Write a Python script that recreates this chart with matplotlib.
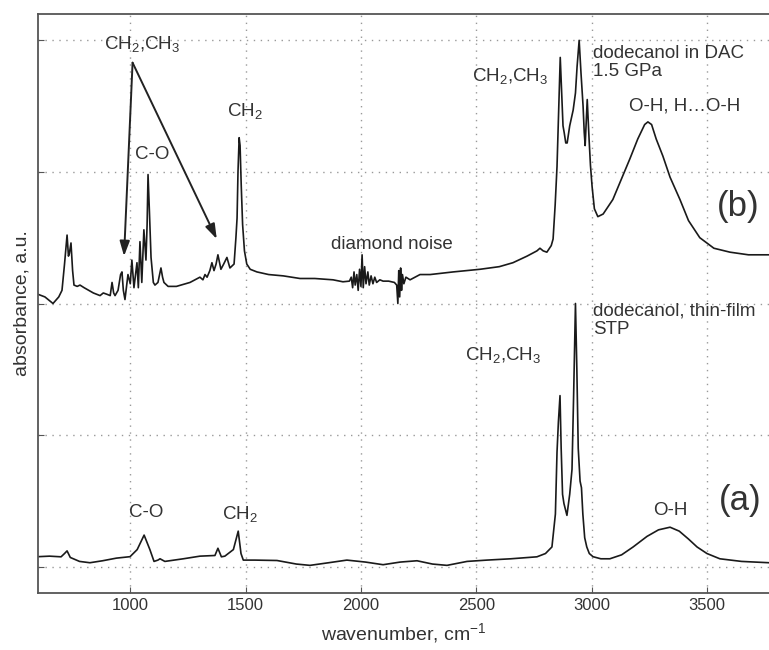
import numpy as np
import matplotlib
matplotlib.use('Agg')
import matplotlib.pyplot as plt

plt.rcParams['font.family'] = ['Liberation Sans', 'DejaVu Sans']
plt.rcParams['mathtext.fontset'] = 'custom'
plt.rcParams['mathtext.rm'] = 'Liberation Sans'
plt.rcParams['mathtext.it'] = 'Liberation Sans'

# trace (a): dodecanol thin film, STP
wn_a = [600, 650, 700, 715, 726, 740, 780, 825, 880, 940, 999, 1030, 1060, 1085, 1103,
        1120, 1129, 1150, 1230, 1302, 1367, 1380, 1395, 1410, 1447, 1468, 1480, 1490,
        1540, 1636, 1720, 1779, 1860, 1939, 2020, 2096, 2170, 2243, 2310, 2373, 2460,
        2546, 2650, 2763, 2800, 2828, 2843, 2850, 2856, 2863, 2868, 2874, 2880, 2893,
        2905, 2915, 2922, 2930, 2936, 2942, 2950, 2956, 2962, 2970, 2979, 2990, 3006,
        3040, 3079, 3130, 3180, 3240, 3290, 3340, 3380, 3420, 3457, 3500, 3556, 3650, 3769]
abs_a = [0.076, 0.08, 0.075, 0.1, 0.12, 0.07, 0.04, 0.03, 0.045, 0.065, 0.076, 0.13, 0.24,
         0.13, 0.04, 0.05, 0.06, 0.04, 0.06, 0.08, 0.085, 0.14, 0.075, 0.08, 0.13, 0.27,
         0.1, 0.05, 0.05, 0.047, 0.02, 0.01, 0.03, 0.05, 0.035, 0.015, 0.035, 0.045, 0.02,
         0.01, 0.04, 0.05, 0.06, 0.075, 0.1, 0.15, 0.4, 0.87, 1.1, 1.30, 0.9, 0.55, 0.48,
         0.39, 0.55, 0.74, 1.3, 2.0, 1.5, 0.9, 0.65, 0.6, 0.4, 0.22, 0.15, 0.1, 0.076,
         0.06, 0.06, 0.09, 0.15, 0.23, 0.28, 0.3, 0.27, 0.21, 0.15, 0.1, 0.06, 0.04, 0.03]

# trace (b): dodecanol in DAC, 1.5 GPa (offset)
wn_b = [600, 630, 665, 690, 704, 715, 726, 732, 736, 743, 750, 756, 770, 782, 800, 840,
        869, 883, 899, 913, 921, 928, 934, 947, 958, 964, 970, 977, 990, 1000, 1007, 1016,
        1029, 1035, 1042, 1050, 1059, 1068, 1073, 1077, 1083, 1090, 1100, 1107, 1120,
        1133, 1140, 1146, 1164, 1200, 1259, 1302, 1315, 1324, 1333, 1345, 1354, 1363,
        1372, 1380, 1393, 1405, 1419, 1432, 1450, 1458, 1463, 1467, 1472, 1476, 1481,
        1487, 1495, 1505, 1520, 1549, 1600, 1663, 1736, 1800, 1879, 1922,
        1950, 1958, 1964, 1970, 1975, 1982, 1988, 1994, 2000, 2005, 2010, 2016, 2022,
        2030, 2036, 2044, 2052, 2060, 2068, 2082, 2096, 2120, 2145, 2155, 2160, 2164,
        2168, 2172, 2176, 2180, 2186, 2195, 2213, 2256, 2300, 2400, 2516, 2600, 2659,
        2720, 2763, 2776, 2790, 2806, 2825, 2833, 2842, 2850, 2858, 2864, 2870, 2876,
        2881, 2888, 2894, 2905, 2920, 2930, 2937, 2946, 2954, 2963, 2968, 2972, 2977,
        2981, 2985, 2989, 2995, 3002, 3012, 3027, 3050, 3092, 3130, 3166, 3200, 3230,
        3244, 3260, 3280, 3309, 3340, 3383, 3420, 3469, 3530, 3600, 3680, 3769]
abs_b = [2.07, 2.05, 2.0, 2.05, 2.1, 2.3, 2.52, 2.36, 2.38, 2.46, 2.25, 2.14, 2.13, 2.14,
         2.12, 2.08, 2.06, 2.08, 2.07, 2.06, 2.16, 2.08, 2.06, 2.1, 2.22, 2.24, 2.1, 2.03,
         2.22, 2.15, 2.33, 2.12, 2.31, 2.12, 2.47, 2.16, 2.56, 2.33, 2.6, 2.98, 2.7, 2.35,
         2.16, 2.14, 2.16, 2.27, 2.2, 2.16, 2.13, 2.13, 2.16, 2.2, 2.18, 2.22, 2.2, 2.25,
         2.31, 2.25, 2.3, 2.37, 2.26, 2.3, 2.35, 2.27, 2.3, 2.5, 2.65, 3.0, 3.26, 3.2, 2.9,
         2.6, 2.4, 2.3, 2.26, 2.24, 2.22, 2.21, 2.19, 2.19, 2.18, 2.165,
         2.17, 2.2, 2.12, 2.24, 2.14, 2.22, 2.1, 2.26, 2.13, 2.37, 2.12, 2.28, 2.15, 2.24,
         2.14, 2.21, 2.15, 2.2, 2.16, 2.18, 2.17, 2.17, 2.16, 2.14, 2.0, 2.25, 2.05, 2.27,
         2.1, 2.22, 2.15, 2.2, 2.18, 2.22, 2.22, 2.24, 2.26, 2.28, 2.31, 2.36, 2.4, 2.42,
         2.4, 2.39, 2.44, 2.49, 2.75, 3.04, 3.5, 3.87, 3.6, 3.35, 3.3, 3.22, 3.22, 3.35,
         3.47, 3.6, 3.8, 4.0, 3.75, 3.5, 3.3, 3.2, 3.4, 3.55, 3.4, 3.25, 3.05, 2.89, 2.72,
         2.66, 2.68, 2.79, 2.95, 3.1, 3.25, 3.36, 3.38, 3.36, 3.25, 3.12, 2.96, 2.79, 2.63,
         2.5, 2.42, 2.39, 2.37, 2.37]

xticks = [1000, 1500, 2000, 2500, 3000, 3500]
yticks = [0, 1, 2, 3, 4]

txt = '#333333'
fig = plt.figure(figsize=(7.69, 6.5), dpi=100)
ax = fig.add_axes([38/769, 57/650, 1 - 38/769, 579/650])

ax.plot(wn_a, abs_a, color='#1a1a1a', lw=1.2)
ax.plot(wn_b, abs_b, color='#1a1a1a', lw=1.2)

ax.set_xlim(600, 3769)
ax.set_ylim(-0.2, 4.2)
ax.set_xticks(xticks)
ax.set_yticks(yticks)
ax.set_yticklabels([])
ax.tick_params(direction='in', length=4, colors='#555555', labelcolor=txt, labelsize=12)
ax.grid(True, linestyle=(0, (1, 4)), color='#999999', lw=1.0)
for s in ['left', 'bottom', 'top']:
    ax.spines[s].set_color('#555555')
    ax.spines[s].set_linewidth(1.3)
ax.spines['right'].set_visible(False)

ax.set_xlabel('wavenumber, cm$^{-1}$', fontsize=14, color=txt, labelpad=6)
ax.set_ylabel('absorbance, a.u.', fontsize=14, color=txt, labelpad=2)

fs = 13.5
# upper spectrum labels
ax.text(1050, 3.97, 'CH$_2$,CH$_3$', fontsize=fs, color=txt, ha='center', va='center')
for tx, ty in [(973, 2.36), (1375, 2.49)]:
    ax.annotate('', xy=(tx, ty), xytext=(1010, 3.83),
                arrowprops=dict(arrowstyle='-|>,head_length=0.9,head_width=0.3',
                                color='#222222', lw=1.4, shrinkA=0, shrinkB=0))
ax.text(1094, 3.13, 'C-O', fontsize=fs, color=txt, ha='center', va='center')
ax.text(1497, 3.46, 'CH$_2$', fontsize=fs, color=txt, ha='center', va='center')
ax.text(2134, 2.45, 'diamond noise', fontsize=fs, color=txt, ha='center', va='center')
ax.text(2646, 3.73, 'CH$_2$,CH$_3$', fontsize=fs, color=txt, ha='center', va='center')
ax.text(3006, 3.83, 'dodecanol in DAC\n1.5 GPa', fontsize=fs, color=txt,
        ha='left', va='center', linespacing=1.1)
ax.text(3405, 3.5, 'O-H, H…O-H', fontsize=fs, color=txt, ha='center', va='center')
ax.text(3634, 2.74, '(b)', fontsize=25, color=txt, ha='center', va='center')

# lower spectrum labels
ax.text(3006, 1.87, 'dodecanol, thin-film\nSTP', fontsize=fs, color=txt,
        ha='left', va='center', linespacing=1.1)
ax.text(2616, 1.61, 'CH$_2$,CH$_3$', fontsize=fs, color=txt, ha='center', va='center')
ax.text(1068, 0.41, 'C-O', fontsize=fs, color=txt, ha='center', va='center')
ax.text(1476, 0.40, 'CH$_2$', fontsize=fs, color=txt, ha='center', va='center')
ax.text(3340, 0.43, 'O-H', fontsize=fs, color=txt, ha='center', va='center')
ax.text(3643, 0.5, '(a)', fontsize=25, color=txt, ha='center', va='center')

plt.savefig('out.png', dpi=100)
